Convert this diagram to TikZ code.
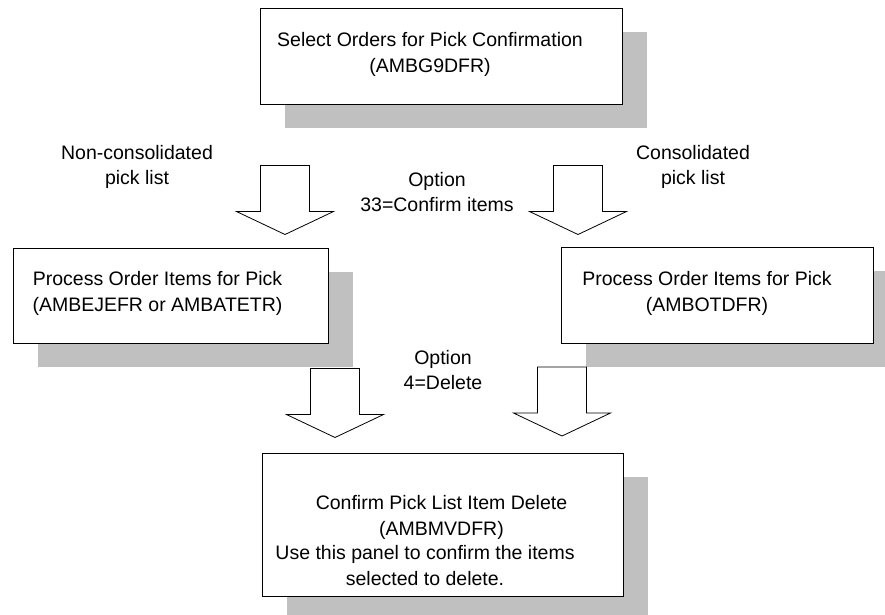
\documentclass[tikz,border=0pt]{standalone}
\usepackage{fontspec}
\setmainfont{Liberation Sans}
\usepackage{tikz}
\usetikzlibrary{shadows}

\definecolor{shadowgray}{RGB}{192,192,192}

\tikzset{
  panel/.style={draw=black,line width=1pt,fill=white,
    drop shadow={shadow xshift=25pt,shadow yshift=-24pt,fill=shadowgray,opacity=1}},
  paneltext/.style={align=center,inner sep=0pt,font=\fontsize{19.5pt}{26pt}\selectfont},
  steptext/.style={align=center,inner sep=0pt,font=\fontsize{19.5pt}{25pt}\selectfont},
  arrowline/.style={draw=black,line width=0.8pt,line join=miter},
  bigarrow/.pic={\draw[arrowline] (0,0) -- (-48.5,-23) -- (-24.5,-23) -- (-24.5,-69)
                   -- (24.5,-69) -- (24.5,-23) -- (48.5,-23) -- cycle;}
}

\begin{document}
\begin{tikzpicture}[x=1pt,y=-1pt]
                      \useasboundingbox (0,0) rectangle (885,614);
                      \node[panel,minimum width=362pt,minimum height=96pt](sel)at(441,56){};
                      \node[panel,minimum width=315pt,minimum height=95pt](proca)at(170.5,295.5){};
                      \node[panel,minimum width=312pt,minimum height=96pt](procb)at(717,295){};
                      \node[panel,minimum width=361pt,minimum height=143pt](conf)at(442.5,524.5){};
                      \node[paneltext](seltxt)at(430,54){Select Orders for Pick Confirmation\\(AMBG9DFR)};
                      \node[paneltext](procatxt)at(157.5,293){Process Order Items for Pick\\(AMBEJEFR or AMBATETR)};
                      \node[paneltext](procbtxt)at(707,293){Process Order Items for Pick\\(AMBOTDFR)};
                      \node[paneltext](conftxt)at(441.5,517){Confirm Pick List Item Delete\\(AMBMVDFR)};
                      \node[paneltext](confdesc)at(425,566){Use this panel to confirm the items\\selected to delete.};
                      \node[steptext](nonc)at(137,166.5){Non-consolidated\\pick list};
                      \node[steptext](cons)at(693,166.5){Consolidated\\pick list};
                      \node[steptext](opt)at(437,192.5){Option\\33=Confirm items};
                      \node[steptext](optdel)at(443,370){Option\\4=Delete};
                      \pic(arra)at(285,234.5){bigarrow};
                      \pic(arrb)at(578,234.5){bigarrow};
                      \pic(arrc)at(335,437.5){bigarrow};
                      \pic(arrd)at(562,436){bigarrow};
                  \end{tikzpicture}
\end{document}
